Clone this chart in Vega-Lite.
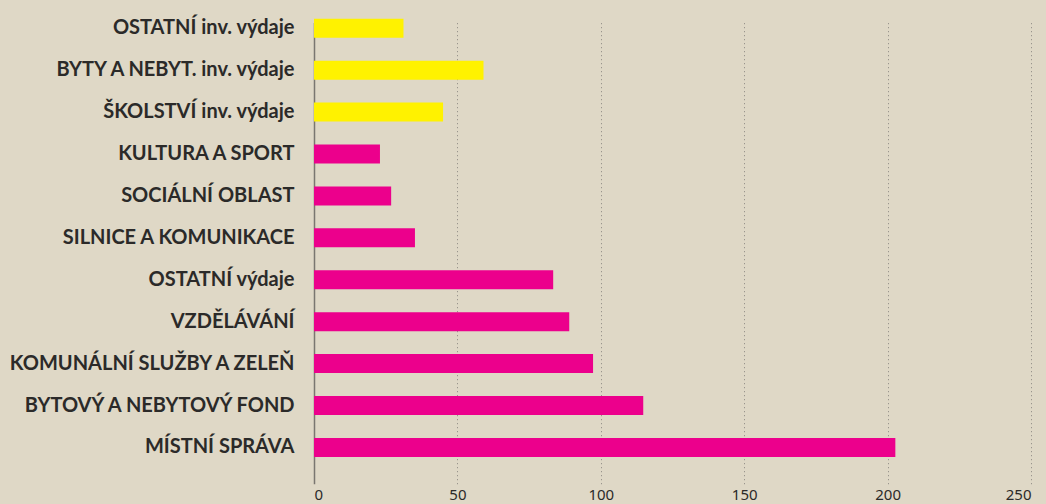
{
  "$schema": "https://vega.github.io/schema/vega-lite/v6.json",
  "autosize": {"type": "none"},
  "padding": {"left": 314, "top": 12, "right": 15, "bottom": 25},
  "width": 717,
  "height": 467,
  "background": "#dfd8c6",
  "config": {"view": {"stroke": null}},
  "data": {
    "values": [
      {"kategorie": "OSTATNÍ inv. výdaje", "hodnota": 31.2, "typ": "investiční"},
      {"kategorie": "BYTY A NEBYT. inv. výdaje", "hodnota": 59.1, "typ": "investiční"},
      {"kategorie": "ŠKOLSTVÍ inv. výdaje", "hodnota": 45.0, "typ": "investiční"},
      {"kategorie": "KULTURA A SPORT", "hodnota": 23.0, "typ": "běžné"},
      {"kategorie": "SOCIÁLNÍ OBLAST", "hodnota": 26.9, "typ": "běžné"},
      {"kategorie": "SILNICE A KOMUNIKACE", "hodnota": 35.2, "typ": "běžné"},
      {"kategorie": "OSTATNÍ výdaje", "hodnota": 83.4, "typ": "běžné"},
      {"kategorie": "VZDĚLÁVÁNÍ", "hodnota": 89.0, "typ": "běžné"},
      {"kategorie": "KOMUNÁLNÍ SLUŽBY A ZELEŇ", "hodnota": 97.3, "typ": "běžné"},
      {"kategorie": "BYTOVÝ A NEBYTOVÝ FOND", "hodnota": 114.8, "typ": "běžné"},
      {"kategorie": "MÍSTNÍ SPRÁVA", "hodnota": 202.7, "typ": "běžné"}
    ]
  },
  "mark": {"type": "bar"},
  "encoding": {
    "y": {
      "field": "kategorie",
      "type": "nominal",
      "sort": null,
      "scale": {"range": [-4.7, 456.4], "paddingInner": 0.547, "paddingOuter": 0.2735},
      "axis": {
        "title": null,
        "domain": false,
        "ticks": false,
        "labelPadding": 20,
        "labelFont": "Lato",
        "labelFontWeight": "bold",
        "labelFontSize": 20,
        "labelColor": "#2b2a29",
        "labelLimit": 400
      }
    },
    "x": {
      "field": "hodnota",
      "type": "quantitative",
      "scale": {"domain": [0, 250], "nice": false},
      "axis": {
        "title": null,
        "values": [0, 50, 100, 150, 200, 250],
        "domain": false,
        "ticks": false,
        "grid": true,
        "gridColor": {"condition": {"test": "datum.value === 0", "value": "#7a7670"}, "value": "#8a8680"},
        "gridDash": {"condition": {"test": "datum.value === 0", "value": []}, "value": [1, 3]},
        "gridWidth": {"condition": {"test": "datum.value === 0", "value": 1.5}, "value": 1},
        "labelFont": "Noto Sans",
        "labelFontSize": 15,
        "labelColor": "#2b2a29",
        "labelPadding": 8
      }
    },
    "color": {
      "field": "typ",
      "type": "nominal",
      "scale": {"domain": ["investiční", "běžné"], "range": ["#fff200", "#ec008c"]},
      "legend": null
    }
  }
}
